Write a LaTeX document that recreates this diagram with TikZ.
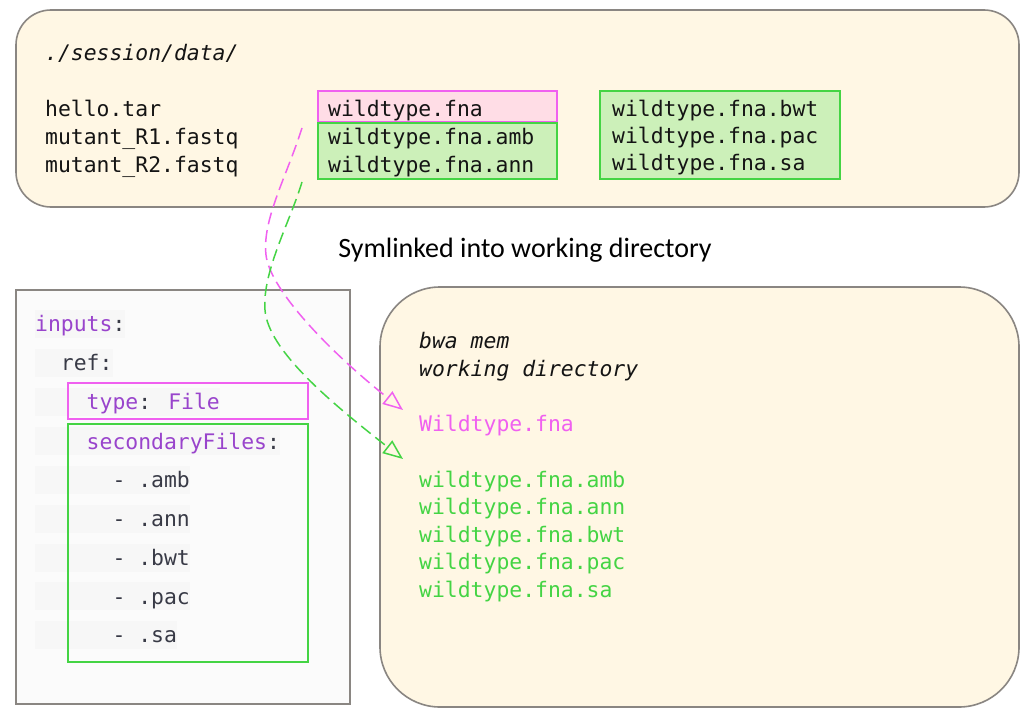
\documentclass[tikz,border=0pt]{standalone}
\usepackage{fontspec}
\usetikzlibrary{arrows.meta}
\newfontfamily\codefont{DejaVu Sans Mono}
\newfontfamily\labelfont{Carlito}
\definecolor{cream}{RGB}{255,247,228}
\definecolor{frame}{RGB}{138,134,130}
\definecolor{pinkc}{RGB}{240,96,240}
\definecolor{pinkfill}{RGB}{255,221,230}
\definecolor{greenc}{RGB}{68,212,68}
\definecolor{greenfill}{RGB}{204,240,185}
\definecolor{purplec}{RGB}{153,68,204}
\definecolor{yamltext}{RGB}{56,58,70}
\definecolor{yamlbg}{RGB}{251,251,251}
\definecolor{yamlhl}{RGB}{247,247,247}
\definecolor{darktext}{RGB}{20,20,20}
\begin{document}
\begin{tikzpicture}[x=1pt,y=-1pt,
  code/.style={font=\codefont\fontsize{21.4}{26}\selectfont, anchor=base west, inner sep=0pt, text=darktext},
  yaml/.style={code, text=yamltext, fill=yamlhl, text height=22pt, text depth=6pt},
  creambox/.style={draw=frame, line width=1.6pt, fill=cream, rectangle, inner sep=0pt},
  pinkbox/.style={draw=pinkc, line width=1.6pt, rectangle, inner sep=0pt},
  greenbox/.style={draw=greenc, line width=1.6pt, rectangle, inner sep=0pt},
  link/.style={line width=1.5pt, dash pattern=on 12pt off 6pt, -{Triangle[open, length=20pt, width=16pt, line width=1.5pt]}}
]
\useasboundingbox[fill=white] (0,0) rectangle (1035,722);

% ---------- top: session data ----------
\node[creambox, rounded corners=35pt, minimum width=1003pt, minimum height=197pt] (session) at (517.5,108.5) {};
\node[code, font=\codefont\itshape\fontsize{21.4}{26}\selectfont] (sesslbl) at (45,61) {./session/data/};
\node[code] (hello) at (45,117) {hello.tar};
\node[code] (mutA) at (45,145) {mutant\_R1.fastq};
\node[code] (mutB) at (45,173) {mutant\_R2.fastq};

\node[pinkbox, fill=pinkfill, minimum width=239pt, minimum height=31pt] (fnabox) at (437.5,106.5) {};
\node[greenbox, fill=greenfill, minimum width=239pt, minimum height=56pt] (secA) at (437.5,151) {};
\node[greenbox, fill=greenfill, minimum width=240pt, minimum height=88pt] (secB) at (720,135) {};
\node[code] (fna) at (328,117) {wildtype.fna};
\node[code] (amb) at (328,145) {wildtype.fna.amb};
\node[code] (ann) at (328,172) {wildtype.fna.ann};
\node[code] (bwt) at (612,117) {wildtype.fna.bwt};
\node[code] (pac) at (612,144) {wildtype.fna.pac};
\node[code] (sa) at (612,171) {wildtype.fna.sa};

% ---------- label ----------
\node[font=\labelfont\fontsize{28}{32}\selectfont, anchor=base, inner sep=0pt] (symlbl) at (525,257) {Symlinked into working directory};

% ---------- YAML box ----------
\node[draw=frame, line width=1.6pt, fill=yamlbg, rectangle, inner sep=0pt, minimum width=334pt, minimum height=414pt] (yamlbox) at (183,497) {};
\node[yaml, text=purplec] (yinputs) at (35,331.5) {inputs\textcolor{yamltext}{:}};
\node[yaml] (yref) at (35,370.5) {\phantom{xx}ref:};
\node[yaml, text=purplec] (ytype) at (35,409.5) {\phantom{xxxx}type\textcolor{yamltext}{:} File};
\node[yaml, text=purplec] (ysec) at (35,449) {\phantom{xxxx}secondaryFiles\textcolor{yamltext}{:}};
\node[yaml] (yamb) at (35,487.5) {\phantom{xxxxxx}- .amb};
\node[yaml] (yann) at (35,526.5) {\phantom{xxxxxx}- .ann};
\node[yaml] (ybwt) at (35,565.5) {\phantom{xxxxxx}- .bwt};
\node[yaml] (ypac) at (35,604) {\phantom{xxxxxx}- .pac};
\node[yaml] (ysa) at (35,642.5) {\phantom{xxxxxx}- .sa};
\node[pinkbox, minimum width=240pt, minimum height=36pt] (ytypebox) at (188,401) {};
\node[greenbox, minimum width=240pt, minimum height=238pt] (ysecbox) at (188,543) {};

% ---------- working directory ----------
\node[creambox, rounded corners=60pt, minimum width=639pt, minimum height=420pt] (workdir) at (699.5,497) {};
\node[code, font=\codefont\itshape\fontsize{21.4}{26}\selectfont] (bwa) at (419,348.5) {bwa mem};
\node[code, font=\codefont\itshape\fontsize{21.4}{26}\selectfont] (wdlbl) at (419,376) {working directory};
\node[code, text=pinkc] (wfna) at (419,431) {Wildtype.fna};
\node[code, text=greenc] (wamb) at (419,487) {wildtype.fna.amb};
\node[code, text=greenc] (wann) at (419,514.5) {wildtype.fna.ann};
\node[code, text=greenc] (wbwt) at (419,542) {wildtype.fna.bwt};
\node[code, text=greenc] (wpac) at (419,569.5) {wildtype.fna.pac};
\node[code, text=greenc] (wsa) at (419,597) {wildtype.fna.sa};

% ---------- connectors ----------
\coordinate (pinkS) at (302,128);
\coordinate (pinkE) at (403,410);
\coordinate (greenS) at (302,182);
\coordinate (greenE) at (403,459);
\draw[link, draw=pinkc] (pinkS) .. controls (286,178) and (262,220) .. (266,255) .. controls (270,290) and (330,352) .. (pinkE);
\draw[link, draw=greenc] (greenS) .. controls (290,222) and (262,272) .. (265,310) .. controls (268,350) and (330,402) .. (greenE);
\end{tikzpicture}
\end{document}
